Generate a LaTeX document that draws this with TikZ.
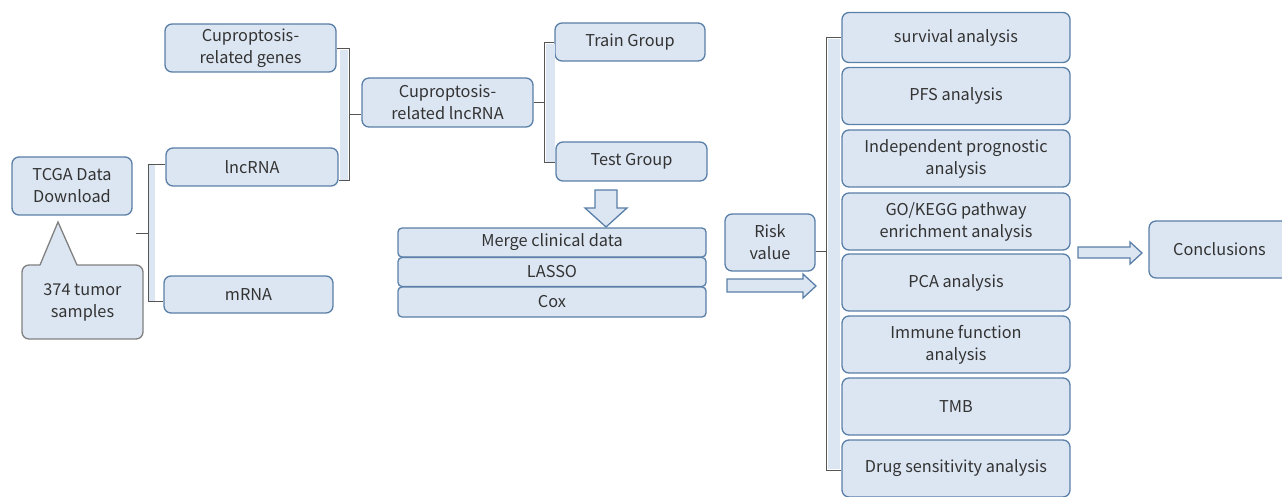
\documentclass[tikz,border=0pt]{standalone}
\usepackage{fontspec}
\newfontfamily\cjk{Noto Sans CJK SC}
\definecolor{boxfill}{HTML}{DCE6F2}
\definecolor{boxline}{HTML}{5A7FA8}
\definecolor{calloutline}{HTML}{808080}
\definecolor{braceline}{HTML}{555555}
\definecolor{txt}{HTML}{333333}
\tikzset{
  box/.style={draw=boxline, fill=boxfill, rounded corners=7pt, line width=1.3pt,
    text=txt, align=center, inner sep=1pt, font=\cjk\fontsize{16.3}{22}\selectfont},
  stack/.style={box, rounded corners=4pt, minimum width=308pt, minimum height=29pt},
  result/.style={box, minimum width=228pt, minimum height=57pt},
  brace/.style={draw=braceline, line width=1pt},
  strip/.style={fill=boxfill, draw=none},
  fat/.style={draw=boxline, fill=boxfill, line width=1.3pt, line join=miter}
}
\begin{document}
\begin{tikzpicture}[x=1pt,y=-1pt]
  \useasboundingbox (0,0) rectangle (1282,497);
  % data
  \node[box, minimum width=120pt, minimum height=58pt] (tcga) at (72,186) {TCGA Data\\Download};
  \node[box, draw=calloutline, minimum width=121pt, minimum height=74pt] (samples) at (82.5,302) {374 tumor\\samples};
  \coordinate (tip) at (58,222);
  \fill[boxfill] (40,266.5) -- (tip) -- (77,266.5) -- cycle;
  \draw[calloutline, line width=1.3pt, line join=miter] (40,265) -- (tip) -- (77,265);
  \node[box, minimum width=171pt, minimum height=48pt] (genes) at (250.5,48) {Cuproptosis-\\related genes};
  \node[box, minimum width=172pt, minimum height=38pt] (lnc) at (252,167) {lncRNA};
  \node[box, minimum width=169pt, minimum height=37pt] (mrna) at (248.5,294.5) {mRNA};
  \node[box, minimum width=171pt, minimum height=49pt] (crlnc) at (447.5,102.5) {Cuproptosis-\\related lncRNA};
  \node[box, minimum width=150pt, minimum height=38pt] (train) at (630,42) {Train Group};
  \node[box, minimum width=151pt, minimum height=39pt] (test) at (631.5,161.5) {Test Group};
  % model
  \node[stack] (merge) at (552,242.5) {Merge clinical data};
  \node[stack] (lasso) at (552,272) {LASSO};
  \node[stack, minimum height=30pt] (cox) at (552,302) {Cox};
  \node[box, minimum width=90pt, minimum height=57pt] (risk) at (770,242.5) {Risk\\value};
  % analyses
  \node[result, minimum height=50pt] (surv) at (956,37.5) {survival analysis};
  \node[result] (pfs) at (956,96) {PFS analysis};
  \node[result] (indep) at (956,158.5) {Independent prognostic\\analysis};
  \node[result] (gokegg) at (956,221.5) {GO/KEGG pathway\\enrichment analysis};
  \node[result] (pca) at (956,282.5) {PCA analysis};
  \node[result] (immune) at (956,344.5) {Immune function\\analysis};
  \node[result] (tmb) at (956,406.5) {TMB};
  \node[result] (drug) at (956,468.5) {Drug sensitivity analysis};
  \node[box, minimum width=141pt, minimum height=57pt] (concl) at (1219.5,249.5) {Conclusions};
  % brackets
  \fill[strip] (149,165) rectangle (155,301);
  \draw[brace] (lnc.west |- 0,165) -- (148,165) -- (148,301) -- (mrna.west |- 0,301)
    (148,233) -- (136,233);
  \fill[strip] (340,50) rectangle (348,180);
  \draw[brace] (genes.east |- 0,49) -- (349,49) -- (349,181) -- (lnc.east |- 0,181)
    (349,115) -- (crlnc.west |- 0,115);
  \fill[strip] (546,44) rectangle (555,162);
  \draw[brace] (train.west |- 0,43) -- (544,43) -- (544,163) -- (test.west |- 0,163)
    (544,103) -- (crlnc.east |- 0,103);
  \fill[strip] (828,39) rectangle (840,469);
  \draw[brace] (surv.west |- 0,38) -- (826,38) -- (826,470) -- (drug.west |- 0,470)
    (826,251) -- (risk.east |- 0,251);
  % block arrows
  \draw[fat] (595,190) -- (617,190) -- (617,208) -- (627,208) -- (606,227)
    -- (585,208) -- (595,208) -- cycle;
  \draw[fat] (727,279) -- (803,279) -- (803,274) -- (816,286) -- (803,298)
    -- (803,292) -- (727,292) -- cycle;
  \draw[fat] (1078,247) -- (1130,247) -- (1130,242) -- (1142,253) -- (1130,264)
    -- (1130,258) -- (1078,258) -- cycle;
\end{tikzpicture}
\end{document}
